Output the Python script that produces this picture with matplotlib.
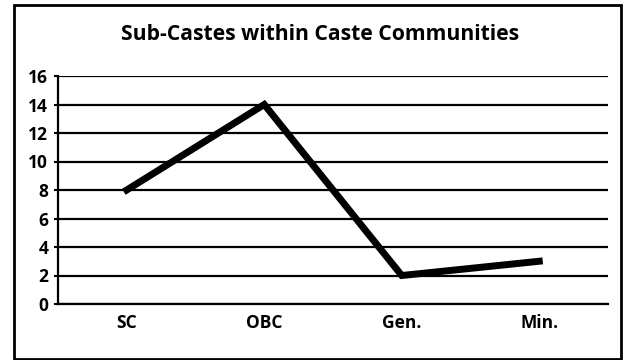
import matplotlib.pyplot as plt
from matplotlib.patches import Rectangle

# data
categories = ["SC", "OBC", "Gen.", "Min."]
subcastes = [8, 14, 2, 3]
title = "Sub-Castes within Caste Communities"

plt.rcParams['font.family'] = ['Open Sans', 'DejaVu Sans']

W, H = 623, 360
fig = plt.figure(figsize=(W / 100, H / 100), dpi=100)
ax = fig.add_axes([58 / W, 1 - 304 / H, 550 / W, 228 / H])

# outer frame
fig.patches.append(Rectangle((14 / W, 1 - 359 / H), 607 / W, 354 / H, transform=fig.transFigure,
                             fill=False, edgecolor="black", linewidth=2))

x = list(range(len(categories)))
ax.plot(x, subcastes, color="black", linewidth=5, solid_joinstyle="miter")

ax.set_ylim(0, 16)
ax.set_yticks(range(0, 17, 2))
ax.set_xlim(-0.5, 3.5)
ax.set_xticks(x)
ax.set_xticklabels(categories)
ax.yaxis.grid(True, color="black", linewidth=1.6)
ax.set_axisbelow(True)

for s in ["top", "right"]:
    ax.spines[s].set_visible(False)
ax.spines["left"].set_linewidth(1.6)
ax.spines["bottom"].set_linewidth(1.6)
ax.tick_params(axis="y", length=3, width=1.5, labelsize=12.5, pad=4)
ax.tick_params(axis="x", length=0, labelsize=12.5, pad=7)
for lbl in ax.get_xticklabels() + ax.get_yticklabels():
    lbl.set_fontweight("bold")

t = fig.text(320.5 / W, 1 - 35 / H, title, ha="center", va="center",
             fontsize=15, fontweight="bold")
# fit title width to the reference (~399 px)
fig.canvas.draw()
w = t.get_window_extent().width
t.set_fontsize(15 * 399 / w)

fig.savefig("out.png", dpi=100)
